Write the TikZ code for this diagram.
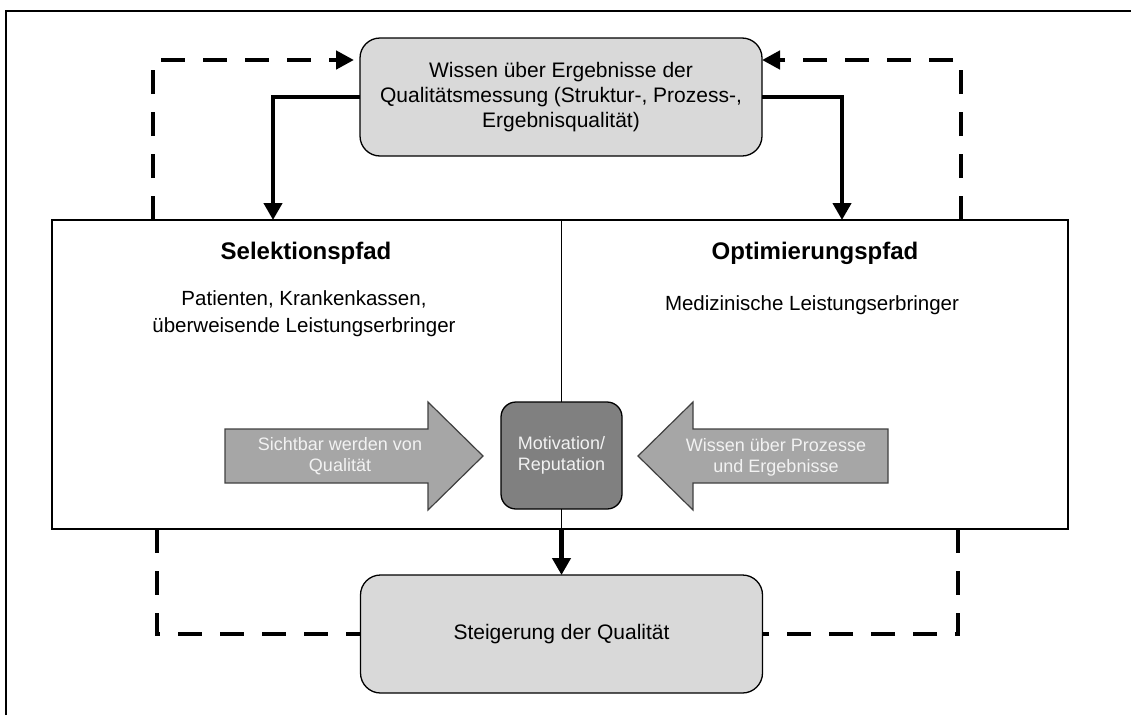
\documentclass[tikz,border=0pt]{standalone}
\usepackage{fontspec}
\setmainfont{Liberation Sans}
\usetikzlibrary{arrows.meta}
\definecolor{boxgray}{HTML}{D9D9D9}
\definecolor{motgray}{HTML}{808080}
\definecolor{arrgray}{HTML}{A6A6A6}
\definecolor{arredge}{HTML}{404040}
\definecolor{txtlight}{HTML}{F2F2F2}

\begin{document}
\begin{tikzpicture}[x=1pt,y=-1pt,
  every node/.style={inner sep=0pt, outer sep=0pt, align=center},
  roundbox/.style={draw=black, line width=1.3pt, fill=boxgray, rounded corners=20pt,
    minimum width=402pt, minimum height=118pt, font=\fontsize{21}{25}\selectfont},
  pathframe/.style={draw=black, line width=1.6pt, minimum width=1016pt, minimum height=309pt},
  motbox/.style={draw=black, line width=1.3pt, fill=motgray, rounded corners=15pt,
    minimum width=121pt, minimum height=107pt, text=txtlight, font=\fontsize{18}{21}\selectfont},
  heading/.style={font=\bfseries\fontsize{24}{28}\selectfont},
  bodytext/.style={font=\fontsize{20.5}{27}\selectfont},
  fatarrow/.style={draw=arredge, line width=1.2pt, fill=arrgray, line join=miter},
  arrowtext/.style={text=txtlight, font=\fontsize{18}{21}\selectfont},
  solidconn/.style={line width=4.2pt, -{Triangle[length=17pt,width=18pt]}},
  dashconn/.style={line width=4.5pt, dash pattern=on 24pt off 18pt},
  dividerline/.style={line width=1.5pt}
]
\useasboundingbox (0,0) rectangle (1131,715);

% outer frame (open to the right and bottom)
\draw[line width=1.5pt] (6,715) -- (6,11) -- (1131,11);

% main boxes
\node[roundbox] (wissen) at (561,97)
  {Wissen über Ergebnisse der\\Qualitätsmessung (Struktur-, Prozess-,\\Ergebnisqualität)};
\node[pathframe] (pfade) at (560,374.5) {};
\node[roundbox] (steig) at (561.5,634) {Steigerung der Qualität};
\node[motbox] (mot) at (561.5,455.5) {Motivation/\\Reputation};

% divider between the two paths
\draw[dividerline] (mot.north |- pfade.north) -- (mot.north);
\draw[dividerline] (mot.south) -- (mot.south |- pfade.south);

% headings and texts
\node[heading] (selh) at (306,253) {Selektionspfad};
\node[bodytext] (selt) at (304,314) {Patienten, Krankenkassen,\\überweisende Leistungserbringer};
\node[heading] (opth) at (815,253) {Optimierungspfad};
\node[bodytext] (optt) at (812,305) {Medizinische Leistungserbringer};

% block arrows pointing at the motivation box
\draw[fatarrow] (225,429) -- (428,429) -- (428,402) -- (483,456) -- (428,510) -- (428,483) -- (225,483) -- cycle;
\node[arrowtext] (sicht) at (340,456) {Sichtbar werden von\\Qualität};
\draw[fatarrow] (888,429) -- (693,429) -- (693,402) -- (638,456) -- (693,510) -- (693,483) -- (888,483) -- cycle;
\node[arrowtext] (wproz) at (776,457) {Wissen über Prozesse\\und Ergebnisse};

% bend points of the feedback loops
\coordinate (tl) at (153,60);
\coordinate (tr) at (961,60);
\coordinate (bl) at (157,634);
\coordinate (br) at (958,634);
\coordinate (lsel) at (273,0);
\coordinate (ropt) at (842,0);

% solid connectors
\draw[solidconn] (wissen.west) -| (lsel |- pfade.north);
\draw[solidconn] (wissen.east) -| (ropt |- pfade.north);
\draw[solidconn] (mot.south |- pfade.south) -- (steig.north);

% dashed feedback loops
\draw[dashconn, -{Triangle[length=18pt,width=18pt]}, shorten >=6pt]
  (tl |- pfade.north) -- (tl) -- (wissen.west |- tl);
\draw[dashconn, -{Triangle[length=18pt,width=18pt]}]
  (tr |- pfade.north) -- (tr) -- (wissen.east |- tr);
\draw[dashconn] (bl |- pfade.south) -- (bl) -- (steig.west);
\draw[dashconn] (br |- pfade.south) -- (br) -- (steig.east);
\end{tikzpicture}
\end{document}
